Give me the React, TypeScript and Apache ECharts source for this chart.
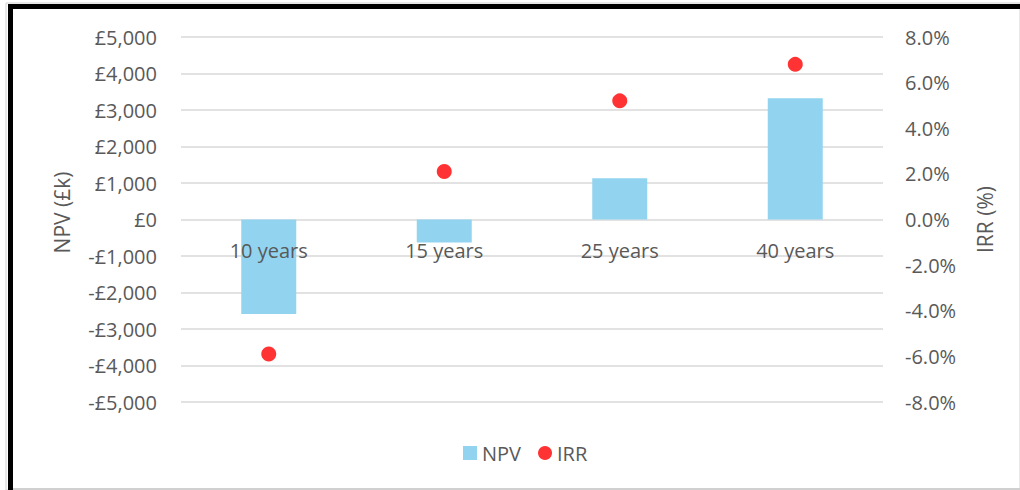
import React, { useEffect, useRef } from "react";
import * as echarts from "echarts";

const categories = ["10 years", "15 years", "25 years", "40 years"];
const npvValues = [-2590, -630, 1130, 3320];
const irrValues = [-5.9, 2.1, 5.2, 6.8];

const FONT = "'Open Sans', 'Noto Sans', sans-serif";
const TEXT = "#595959";

const GRID_TOP = 37;
const GRID_BOTTOM_PX = 402;
const NPV_MIN = -5000;
const NPV_MAX = 5000;

function fmtPound(v: number): string {
  const abs = Math.abs(v).toLocaleString("en-GB");
  return (v < 0 ? "-£" : "£") + abs;
}

export default function App() {
  const ref = useRef<HTMLDivElement>(null);
  useEffect(() => {
    if (!ref.current) return;
    const chart = echarts.init(ref.current, undefined, { renderer: "svg" });
    // distance from grid bottom to the zero line of the NPV axis
    const zeroOffset =
      ((0 - NPV_MIN) / (NPV_MAX - NPV_MIN)) * (GRID_BOTTOM_PX - GRID_TOP);
    chart.setOption({
      animation: false,
      backgroundColor: "#ffffff",
      textStyle: { fontFamily: FONT },
      grid: { left: 181, right: 137, top: GRID_TOP, bottom: 490 - GRID_BOTTOM_PX },
      legend: {
        data: [
          { name: "NPV", icon: "rect" },
          { name: "IRR", icon: "circle" },
        ],
        left: 458,
        top: 438,
        itemWidth: 14,
        itemHeight: 14,
        itemGap: 17,
        textStyle: { color: TEXT, fontSize: 20, fontFamily: FONT },
      },
      xAxis: {
        type: "category",
        data: categories,
        offset: -zeroOffset,
        z: 10,
        axisLine: { show: false, onZero: false },
        axisTick: { show: false },
        axisLabel: { color: TEXT, fontSize: 20, margin: 21, fontFamily: FONT },
      },
      yAxis: [
        {
          type: "value",
          min: NPV_MIN,
          max: NPV_MAX,
          interval: 1000,
          name: "NPV (£k)",
          nameLocation: "middle",
          nameGap: 109,
          nameTextStyle: { color: TEXT, fontSize: 21, fontFamily: FONT, padding: [0, 0, 0, 14] },
          axisLine: { show: false },
          axisTick: { show: false },
          axisLabel: {
            color: TEXT,
            fontSize: 20,
            margin: 24,
            fontFamily: FONT,
            formatter: (v: number) => fmtPound(v),
          },
          splitLine: { lineStyle: { color: "#D9D9D9", width: 1.5 } },
        },
        {
          type: "value",
          min: -8,
          max: 8,
          interval: 2,
          name: "IRR (%)",
          nameLocation: "middle",
          nameGap: 91,
          nameTextStyle: { color: TEXT, fontSize: 21, fontFamily: FONT },
          axisLine: { show: false },
          axisTick: { show: false },
          axisLabel: {
            color: TEXT,
            fontSize: 20,
            margin: 22,
            fontFamily: FONT,
            formatter: (v: number) => v.toFixed(1) + "%",
          },
          splitLine: { show: false },
        },
      ],
      series: [
        {
          name: "NPV",
          type: "bar",
          yAxisIndex: 0,
          data: npvValues,
          barWidth: 55,
          itemStyle: { color: "#92D4EF" },
        },
        {
          name: "IRR",
          type: "scatter",
          yAxisIndex: 1,
          data: irrValues,
          symbol: "circle",
          symbolSize: 15,
          itemStyle: { color: "#FF0000" },
          z: 3,
        },
      ],
      graphic: [
        { type: "rect", shape: { x: 6, y: 3, width: 1014, height: 487 }, style: { fill: "none", stroke: "#D0D0D0", lineWidth: 1 }, silent: true },
        { type: "rect", shape: { x: 8, y: 4, width: 5, height: 486 }, style: { fill: "#000000" }, silent: true },
        { type: "rect", shape: { x: 8, y: 4, width: 1012, height: 5 }, style: { fill: "#000000" }, silent: true },
        { type: "rect", shape: { x: 13, y: 488, width: 1007, height: 2 }, style: { fill: "#D0D0D0" }, silent: true },
      ],
    });
    return () => chart.dispose();
  }, []);
  return (
    <div
      ref={ref}
      style={{ position: "fixed", left: 0, top: 0, width: 1020, height: 490 }}
    />
  );
}
